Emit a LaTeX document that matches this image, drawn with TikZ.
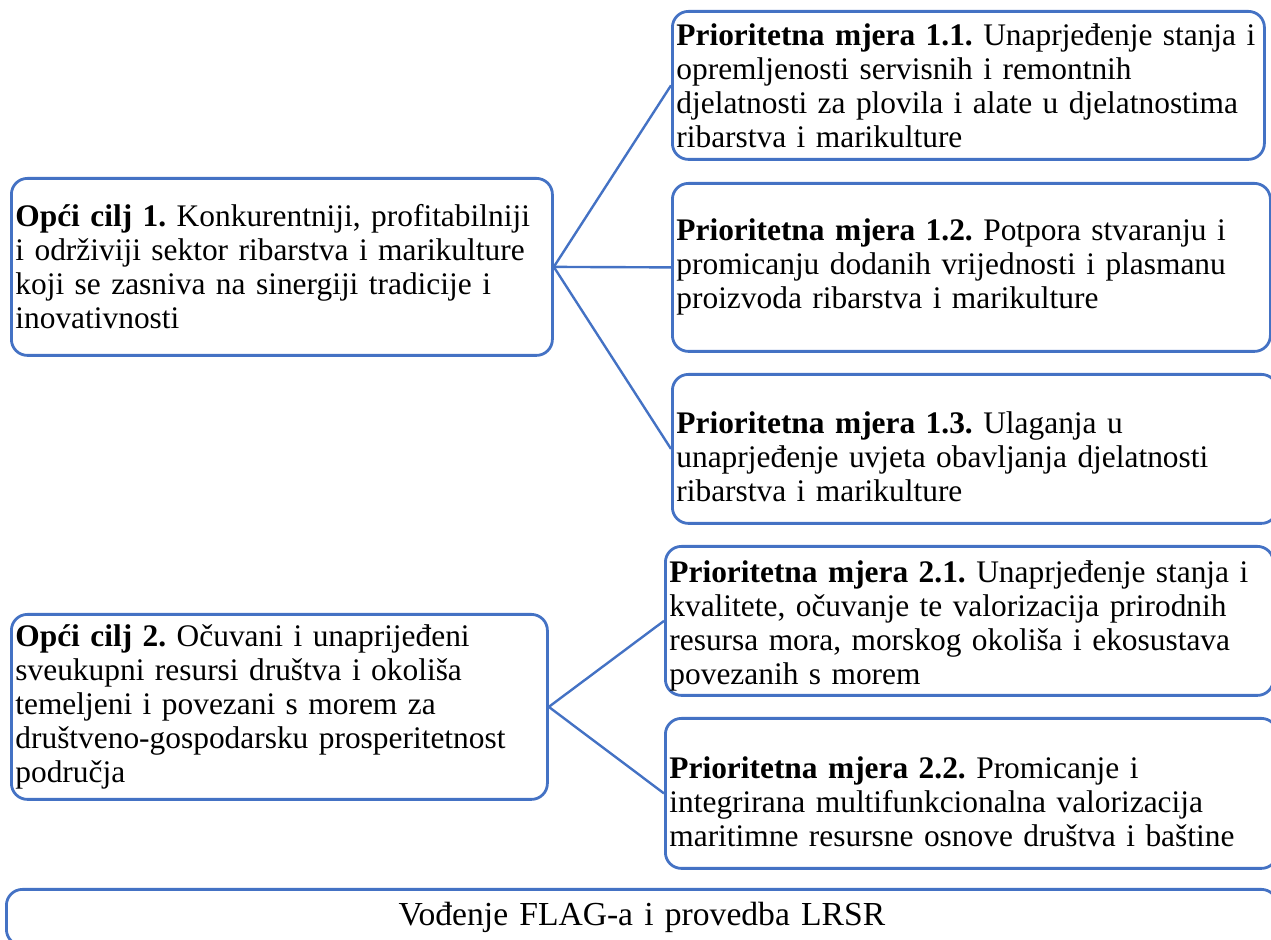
\documentclass[tikz,border=0pt]{standalone}
\usepackage{fontspec}
\setmainfont{Liberation Serif}
\frenchspacing
\definecolor{okvir}{HTML}{4472C4}
\tikzset{
  okvirbox/.style={draw=okvir, line width=1.4pt, rounded corners=8pt, anchor=north west,
    align=left, inner xsep=2pt, inner ysep=0pt, font=\fontsize{15.7}{17}\selectfont},
  veza/.style={draw=okvir, line width=1.2pt}
}
\begin{document}
\begin{tikzpicture}[x=0.5pt,y=-0.5pt]
  \clip (0,0) rectangle (1271,940);
  % opci ciljevi
  \node[okvirbox, text width=266.5pt, minimum height=88.5pt] (cilj1) at (10,177)
    {\textbf{Opći cilj 1.} Konkurentniji, profitabilniji\\ i održiviji sektor ribarstva i marikulture\\ koji se zasniva na sinergiji tradicije i\\ inovativnosti};
  \node[okvirbox, text width=264pt, minimum height=92.5pt] (cilj2) at (10,613)
    {\textbf{Opći cilj 2.} Očuvani i unaprijeđeni\\ sveukupni resursi društva i okoliša\\ temeljeni i povezani s morem za\\ društveno-gospodarsku prosperitetnost\\ područja};
  % prioritetne mjere
  \node[okvirbox, text width=292pt, minimum height=74pt] (mjera11) at (671,10)
    {\textbf{Prioritetna mjera 1.1.} Unaprjeđenje stanja i\\ opremljenosti servisnih i remontnih\\ djelatnosti za plovila i alate u djelatnostima\\ ribarstva i marikulture};
  \node[okvirbox, text width=295pt, minimum height=84pt] (mjera12) at (671,182)
    {\textbf{Prioritetna mjera 1.2.} Potpora stvaranju i\\ promicanju dodanih vrijednosti i plasmanu\\ proizvoda ribarstva i marikulture};
  \node[okvirbox, text width=298.5pt, minimum height=74.5pt] (mjera13) at (671,373)
    {\rule{0pt}{19pt}\textbf{Prioritetna mjera 1.3.} Ulaganja u\\ unaprjeđenje uvjeta obavljanja djelatnosti\\ ribarstva i marikulture};
  \node[okvirbox, text width=300pt, minimum height=74.5pt] (mjera21) at (664,545)
    {\rule{0pt}{16pt}\textbf{Prioritetna mjera 2.1.} Unaprjeđenje stanja i\\ kvalitete, očuvanje te valorizacija prirodnih\\ resursa mora, morskog okoliša i ekosustava\\ povezanih s morem};
  \node[okvirbox, text width=302pt, minimum height=75pt] (mjera22) at (664,717)
    {\rule{0pt}{19pt}\textbf{Prioritetna mjera 2.2.} Promicanje i\\ integrirana multifunkcionalna valorizacija\\ maritimne resursne osnove društva i baštine};
  % vodjenje
  \node[okvirbox, align=center, text width=631.5pt, minimum height=28pt,
    font=\fontsize{16.8}{19}\selectfont] (vodjenje) at (5,888) {Vođenje FLAG-a i provedba LRSR};
  % veze
  \draw[veza] (cilj1.east) -- (mjera11.west);
  \draw[veza] (cilj1.east) -- (mjera12.west);
  \draw[veza] (cilj1.east) -- (mjera13.west);
  \draw[veza] (cilj2.east) -- (mjera21.west);
  \draw[veza] (cilj2.east) -- (mjera22.west);
\end{tikzpicture}
\end{document}
